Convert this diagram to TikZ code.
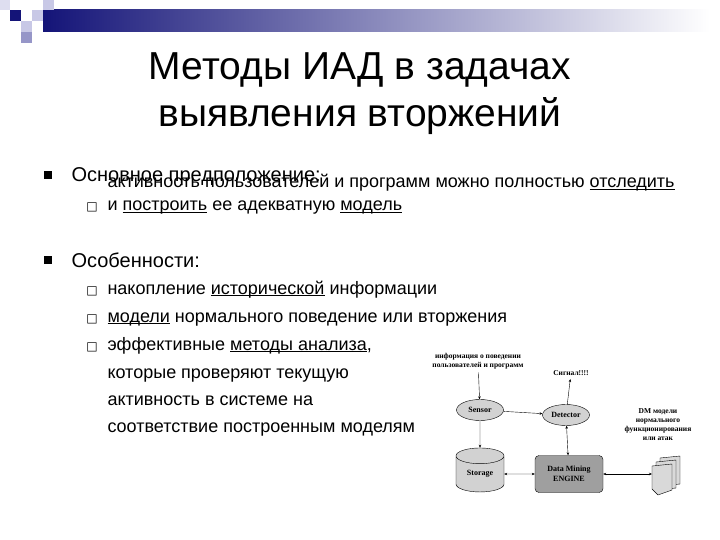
\documentclass[tikz,border=0pt]{standalone}
\usepackage{fontspec}
\setmainfont{Liberation Sans}
\newfontfamily\dserif{Liberation Serif}
\newfontfamily\dsym{DejaVu Sans}
\usetikzlibrary{shapes.geometric,shapes.multipart,arrows.meta}
\definecolor{navy}{RGB}{20,20,120}
\definecolor{lsq}{RGB}{200,200,230}
\definecolor{msq}{RGB}{150,150,200}
\newcommand\ul[1]{\underline{\smash{#1}}}
\begin{document}
\begin{tikzpicture}[x=1pt,y=-1pt,
  body/.style={anchor=base west,font=\fontsize{20}{23}\selectfont},
  sub/.style={anchor=base west,font=\fontsize{18}{23}\selectfont,align=left},
  sq/.style={anchor=base,font=\dsym\fontsize{12}{12}\selectfont},
  dtext/.style={font=\dserif\bfseries\fontsize{7.5}{9}\selectfont,align=center},
  ell/.style={ellipse,draw,fill=gray!35,minimum width=47,minimum height=21,inner sep=0,font=\dserif\bfseries\fontsize{8}{9}\selectfont},
  arr/.style={-{Stealth[length=3pt,width=2.5pt]},thin},
  darr/.style={{Stealth[length=3pt,width=2.5pt]}-{Stealth[length=3pt,width=2.5pt]},thin}]
\useasboundingbox (0,0) rectangle (720,540);
% decoration
\shade[left color=navy,right color=white] (43,10) rectangle (710,32);
\fill[navy] (10,10) rectangle (21,21);
\fill[lsq] (32,10) rectangle (43,21);
\fill[lsq] (43,0) rectangle (54,10);
\fill[lsq] (21,21) rectangle (32,32);
\fill[msq] (21,32) rectangle (32,43);
\fill[lsq!60] (0,0) rectangle (10,10);
% title
\node[font=\fontsize{39}{47}\selectfont,align=center] (title) at (360,94) {Методы ИАД в задачах\\выявления вторжений};
% bullets
\fill[black] (44,171) rectangle (52,179) coordinate (b1);
\node[body] (t1) at (68,182) {Основное предположение:};
\node[sq] (s1) at (92,211) {□};
\node[sub] (t11) at (104,211) {активность пользователей и программ можно полностью \ul{отследить}\\и \ul{построить} ее адекватную \ul{модель}};
\fill[black] (44,256) rectangle (52,264) coordinate (b2);
\node[body] (t2) at (68,267) {Особенности:};
\node[sq] (s2) at (92,294) {□};
\node[sub] (t21) at (104,294) {накопление \ul{исторической} информации};
\node[sq] (s3) at (92,322) {□};
\node[sub] (t22) at (104,322) {\ul{модели} нормального поведение или вторжения};
\node[sq] (s4) at (92,350) {□};
\node[sub] (t23) at (104,350) {эффективные \ul{методы анализа},};
\node[sub] (t24) at (104,378) {которые проверяют текущую};
\node[sub] (t25) at (104,405) {активность в системе на};
\node[sub] (t26) at (104,432) {соответствие построенным моделям};
% diagram
\node[dtext] (info) at (478,361) {информация о поведении\\пользователей и программ};
\node[ell] (sensor) at (480,410) {Sensor};
\node[ell] (det) at (566,415) {Detector};
\node[dtext] (sig) at (571,373) {Сигнал!!!!};
\node[cylinder,shape border rotate=90,draw,fill=gray!35,minimum width=48,minimum height=44,aspect=0.6,inner sep=0,font=\dserif\bfseries\fontsize{8}{9}\selectfont] (stor) at (480,474) {Storage};
\node[draw,fill=gray!75,rounded corners=4,minimum width=68,minimum height=37,inner sep=0,align=center,font=\dserif\bfseries\fontsize{8}{10}\selectfont] (eng) at (569,474) {Data Mining\\ENGINE};
\node[dtext] (dm) at (658,425) {DM модели\\нормального\\функционирования\\или атак};
\fill[gray!30,draw=black,thin] (660,458) -- (680,456) -- (680,484) -- (660,486) -- cycle;
\fill[gray!30,draw=black,thin] (656,462) -- (676,460) -- (676,488) -- (656,490) -- cycle;
\fill[gray!30,draw=black,thin] (652,466) -- (672,464) -- (672,490) -- (658,495) -- (652,489) -- cycle;
\coordinate (docs) at (652,474);
\draw[arr] (info) -- (sensor);
\draw[arr] (sensor) -- (det);
\draw[arr] (det) -- (sig);
\draw[arr] (sensor) -- (stor);
\draw[darr] (stor) -- (eng);
\draw[darr] (det) -- (eng);
\draw[darr] (eng) -- (docs);
\end{tikzpicture}
\end{document}
